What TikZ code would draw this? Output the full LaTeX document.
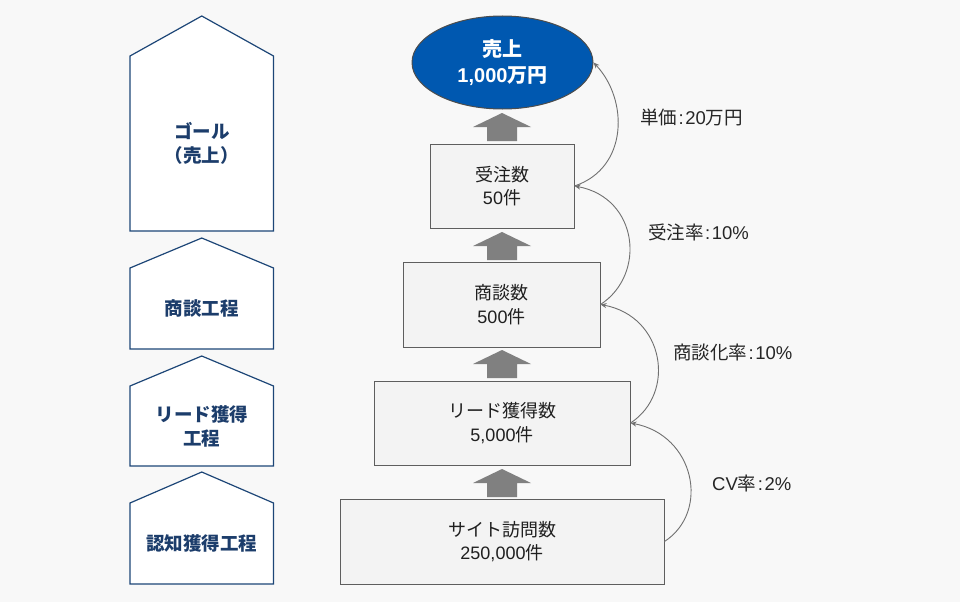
\documentclass[tikz,border=0pt]{standalone}
\usepackage{fontspec}
\setmainfont{Noto Sans CJK JP}
\newfontfamily\lat{Liberation Sans}
\usetikzlibrary{arrows.meta,shapes.geometric}
\definecolor{bgcol}{HTML}{F8F8F8}
\definecolor{boxfill}{HTML}{F3F3F3}
\definecolor{boxline}{HTML}{5E5E5E}
\definecolor{goalblue}{HTML}{0058B0}
\definecolor{stageline}{HTML}{1D4677}
\definecolor{stagetext}{HTML}{1C3D6B}
\definecolor{upgray}{HTML}{808080}
\definecolor{linkgray}{HTML}{707070}
\newcommand{\ratecolon}{\kern1.5pt{\lat :}\kern1.5pt}
\begin{document}
\begin{tikzpicture}[x=1pt,y=-1pt,
  stepbox/.style={draw=boxline, fill=boxfill, line width=1pt, inner sep=0pt,
    align=center, text=black!88, font=\fontsize{18}{23.5}\selectfont},
  stagelabel/.style={align=center, text=stagetext, font=\fontsize{18.5}{24}\selectfont\bfseries},
  ratelabel/.style={anchor=west, inner sep=0pt, text=black!85, font=\fontsize{18.5}{22}\selectfont},
  link/.style={draw=linkgray, line width=0.9pt, -{Stealth[length=6pt,width=5pt]}}]
% Background and page size
\fill[bgcol] (0,0) rectangle (960,602);
\useasboundingbox (0,0) rectangle (960,602);

% Stage pentagons on the left: apex / shoulder / bottom / name / text
\foreach \ap/\sh/\bot/\nm/\txt in {16/56/231/goalstage/{ゴール\\（売上）},
                                   238/268/349/talkstage/{商談工程},
                                   356/386/466/leadstage/{リード獲得\\工程},
                                   472/503/584/visitstage/{認知獲得工程}}
{
  \draw[stageline, fill=white, line width=1.2pt]
    (130,\sh) -- (201.75,\ap) -- (273.5,\sh) -- (273.5,\bot) -- (130,\bot) -- cycle;
  \node[stagelabel] (\nm) at (201.75,{(\sh+\bot)/2}) {\txt};
}

% Goal and the funnel boxes
\node[ellipse, draw=black!70, fill=goalblue, line width=1pt, minimum width=181pt,
  minimum height=93pt, inner sep=0pt, align=center, text=white,
  font=\fontsize{20}{26}\selectfont\bfseries] (goal) at (502.5,62.5) {売上\\{\lat 1,000}万円};
\node[stepbox, minimum width=144pt, minimum height=84pt] (order) at (502,186) {受注数\\{\lat 50}件};
\node[stepbox, minimum width=197pt, minimum height=85pt] (talk) at (501.5,304.5) {商談数\\{\lat 500}件};
\node[stepbox, minimum width=256pt, minimum height=84pt] (lead) at (502,423) {リード獲得数\\{\lat 5,000}件};
\node[stepbox, minimum width=324pt, minimum height=85pt] (visit) at (502,541.5) {サイト訪問数\\{\lat 250,000}件};

% Thick up arrows between the boxes (tip y)
\foreach \t in {113,232,350,469}
{
  \fill[upgray] (502,\t) -- (531,\t+14) -- (517,\t+14) -- (517,\t+28)
    -- (487,\t+28) -- (487,\t+14) -- (473,\t+14) -- cycle;
}

% Curved links with the rates
\foreach \a/\b in {visit/lead, lead/talk, talk/order}
{
  \draw[link] (\a.east) .. controls +(46,-30) and +(64,12) .. (\b.east);
}
\draw[link] (order.east) .. controls +(54,-18) and +(35,37) .. (goal.east);

\node[ratelabel] (price) at (640,117) {単価\ratecolon{\lat 20}万円};
\node[ratelabel] (orderrate) at (648,232) {受注率\ratecolon{\lat 10\%}};
\node[ratelabel] (talkrate) at (673,352) {商談化率\ratecolon{\lat 10\%}};
\node[ratelabel] (cvrate) at (712,483) {{\lat CV}率\ratecolon{\lat 2\%}};
\end{tikzpicture}
\end{document}
